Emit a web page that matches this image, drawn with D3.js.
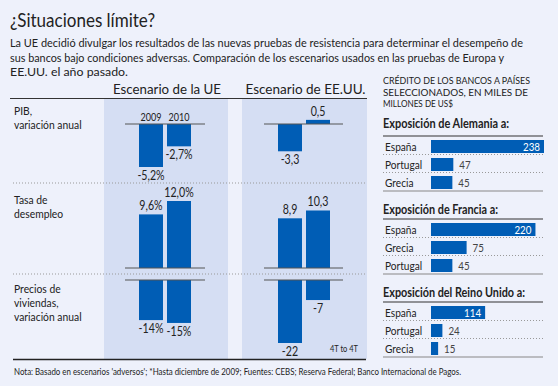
<!DOCTYPE html>
<html>
<head>
<meta charset="utf-8">
<script src="https://cdn.jsdelivr.net/npm/d3@7"></script>
<style>
  body { margin: 0; background: #eef1fb; }
  svg { display: block; }
  text { font-family: Lato, "Noto Sans", sans-serif; fill: #222; }
</style>
</head>
<body>
<div id="chart"></div>
<script>
// data
var years = ["2009", "2010"];
var rowNames = [["PIB,", "variación anual"], ["Tasa de", "desempleo"], ["Precios de", "viviendas,", "variación anual"]];
var euPib = [-5.2, -2.7];
var usPib = [-3.3, 0.5];
var euParo = [9.6, 12.0];
var usParo = [8.9, 10.3];
var euVivienda = [-14, -15];
var usVivienda = [-22, -7];
var euLabels = [["-5,2%", "-2,7%"], ["9,6%", "12,0%"], ["-14%", "-15%"]];
var usLabels = [["-3,3", "0,5"], ["8,9", "10,3"], ["-22", "-7"]];

var blockTitles = ["Exposición de Alemania a:", "Exposición de Francia a:", "Exposición del Reino Unido a:"];
var alemaniaPaises = ["España", "Portugal", "Grecia"];
var alemaniaValores = [238, 47, 45];
var franciaPaises = ["España", "Grecia", "Portugal"];
var franciaValores = [220, 75, 45];
var reinoPaises = ["España", "Portugal", "Grecia"];
var reinoValores = [114, 24, 15];

var W = 558, H = 386;
var blue = "#005db5";
var panel = "#d5def3";

// the original font is a condensed one, so squeeze text to the widths in the picture
function fit(sel, w){
  sel.attr("textLength", w).attr("lengthAdjust", "spacingAndGlyphs");
}
function squeeze(sel, k){
  sel.each(function(){
    var w = this.getComputedTextLength();
    d3.select(this).attr("textLength", w * k).attr("lengthAdjust", "spacingAndGlyphs");
  });
}

var svg = d3.select("#chart").append("svg")
    .attr("width", W)
    .attr("height", H);

svg.append("rect").attr("width", W).attr("height", H).attr("fill", "#eef1fb");

svg.append("text")
    .attr("x", 10).attr("y", 27)
    .attr("font-size", 19)
    .text("¿Situaciones límite?")
    .call(fit, 145);

var sub = ["La UE decidió divulgar los resultados de las nuevas pruebas de resistencia para determinar el desempeño de",
  "sus bancos bajo condiciones adversas. Comparación de los escenarios usados en las pruebas de Europa y",
  "EE.UU. el año pasado."];
var subW = [513, 494, 118];
svg.selectAll(".sub").data(sub).enter().append("text")
    .attr("class", "sub")
    .attr("x", 10)
    .attr("y", function(d, i){ return 47 + i * 14.5; })
    .attr("font-size", 11.5)
    .text(function(d){ return d; })
    .attr("textLength", function(d, i){ return subW[i]; })
    .attr("lengthAdjust", "spacingAndGlyphs");

// left: scenario panels
var panels = [{name: "Escenario de la UE", w: 108, x0: 104, x1: 228, bar0: 139, axis0: 125, axis1: 205},
              {name: "Escenario de EE.UU.", w: 120, x0: 242, x1: 367, bar0: 278, axis0: 264, axis1: 343}];

svg.selectAll(".panel").data(panels).enter().append("rect")
    .attr("x", function(d){ return d.x0; })
    .attr("y", 99)
    .attr("width", function(d){ return d.x1 - d.x0; })
    .attr("height", 260)
    .attr("fill", panel);

svg.selectAll(".ptitle").data(panels).enter().append("text")
    .attr("x", function(d){ return (d.x0 + d.x1) / 2 + 1; })
    .attr("y", 94)
    .attr("text-anchor", "middle")
    .attr("font-size", 14)
    .text(function(d){ return d.name; })
    .attr("textLength", function(d){ return d.w; })
    .attr("lengthAdjust", "spacingAndGlyphs");

svg.append("line").attr("x1", 10).attr("x2", 367).attr("y1", 98.5).attr("y2", 98.5)
    .attr("stroke", "#333").attr("stroke-width", 1);

// dotted separators between rows
[183, 274].forEach(function(y){
  svg.append("line").attr("x1", 13).attr("x2", 365).attr("y1", y).attr("y2", y)
      .attr("stroke", "#999").attr("stroke-dasharray", "1,2");
});

var x = d3.scaleBand().domain(years).range([0, 52]).paddingInner(0.143);

var rows = [
  {eu: euPib, us: usPib, y: d3.scaleLinear().domain([0, -5.2]).range([124, 167]), labelY: 115},
  {eu: euParo, us: usParo, y: d3.scaleLinear().domain([0, 12]).range([268, 201]), labelY: 204},
  {eu: euVivienda, us: usVivienda, y: d3.scaleLinear().domain([0, -22]).range([280, 343]), labelY: 293}
];

rows.forEach(function(row, r){
  svg.append("g").selectAll("text").data(rowNames[r]).enter().append("text")
      .attr("x", 14)
      .attr("y", function(d, i){ return row.labelY + i * 14; })
      .attr("font-size", 12)
      .text(function(d){ return d; })
      .call(squeeze, 0.86);

  [row.eu, row.us].forEach(function(vals, p){
    var pn = panels[p];
    var labs = p == 0 ? euLabels[r] : usLabels[r];
    var g = svg.append("g").attr("transform", "translate(" + pn.bar0 + ",0)");
    g.selectAll("rect").data(vals).enter().append("rect")
        .attr("x", function(d, i){ return x(years[i]); })
        .attr("y", function(d){ return Math.min(row.y(d), row.y(0)); })
        .attr("width", x.bandwidth())
        .attr("height", function(d){ return Math.abs(row.y(d) - row.y(0)); })
        .attr("fill", blue);
    g.selectAll("text").data(vals).enter().append("text")
        .attr("x", function(d, i){ return x(years[i]) + x.bandwidth() / 2; })
        .attr("y", function(d){ return d < 0 ? row.y(d) + 13 : row.y(d) - 4; })
        .attr("text-anchor", "middle")
        .attr("font-size", 12.5)
        .text(function(d, i){ return labs[i]; })
        .call(squeeze, 0.85);
    svg.append("line")
        .attr("x1", pn.axis0).attr("x2", pn.axis1)
        .attr("y1", row.y(0)).attr("y2", row.y(0))
        .attr("stroke", "#555").attr("stroke-width", 1.2);
  });
});

// year labels over the EU PIB bars
svg.append("g").attr("transform", "translate(" + panels[0].bar0 + ",0)")
  .selectAll("text").data(years).enter().append("text")
    .attr("x", function(d){ return x(d) + x.bandwidth() / 2; })
    .attr("y", 121)
    .attr("text-anchor", "middle")
    .attr("font-size", 12)
    .text(function(d){ return d; })
    .call(fit, 21);

svg.append("text").attr("x", 358).attr("y", 352).attr("text-anchor", "end")
    .attr("font-size", 9).attr("fill", "#444")
    .text("4T to 4T")
    .call(fit, 28);

svg.append("line").attr("x1", 13).attr("x2", 366).attr("y1", 359.5).attr("y2", 359.5)
    .attr("stroke", "#222").attr("stroke-width", 1.5);

svg.append("text").attr("x", 14).attr("y", 375)
    .attr("font-size", 9.5).attr("fill", "#333")
    .text("Nota: Basado en escenarios 'adversos'; *Hasta diciembre de 2009; Fuentes: CEBS; Reserva Federal; Banco Internacional de Pagos.")
    .call(fit, 447);

// right: exposure bars
var cred = ["CRÉDITO DE LOS BANCOS A PAÍSES", "SELECCIONADOS, EN MILES DE", "MILLONES DE US$"];
var credW = [147, 145, 70];
svg.selectAll(".cred").data(cred).enter().append("text")
    .attr("x", 383)
    .attr("y", function(d, i){ return 84 + i * 11.5; })
    .attr("font-size", 10)
    .text(function(d){ return d; })
    .attr("textLength", function(d, i){ return credW[i]; })
    .attr("lengthAdjust", "spacingAndGlyphs");

var xr = d3.scaleLinear().domain([0, 238]).range([431, 544]);

var blocks = [
  {title: blockTitles[0], tw: 126, ty: 128, paises: alemaniaPaises, valores: alemaniaValores, top: 136},
  {title: blockTitles[1], tw: 115, ty: 214, paises: franciaPaises, valores: franciaValores, top: 219},
  {title: blockTitles[2], tw: 142, ty: 297, paises: reinoPaises, valores: reinoValores, top: 302}
];

blocks.forEach(function(b){
  var yb = d3.scaleBand().domain(b.paises).range([b.top + 1.5, b.top + 55.5]).paddingInner(5 / 18).paddingOuter(2.5 / 18);
  svg.append("text").attr("x", 383).attr("y", b.ty)
      .attr("font-size", 12.5).attr("font-weight", "bold")
      .text(b.title)
      .call(fit, b.tw);
  svg.append("line").attr("x1", 383).attr("x2", 543).attr("y1", b.top).attr("y2", b.top)
      .attr("stroke", "#333").attr("stroke-width", 1.2);
  svg.append("line").attr("x1", 383).attr("x2", 543).attr("y1", b.top + 55).attr("y2", b.top + 55)
      .attr("stroke", "#888").attr("stroke-width", 1.2);
  [1, 2].forEach(function(k){
    var yy = b.top + k * 18 + 0.5;
    svg.append("line").attr("x1", 383).attr("x2", 543).attr("y1", yy).attr("y2", yy)
        .attr("stroke", "#999").attr("stroke-dasharray", "1,2");
  });
  var g = svg.append("g");
  g.selectAll("rect").data(b.valores).enter().append("rect")
      .attr("x", xr(0))
      .attr("y", function(d, i){ return yb(b.paises[i]); })
      .attr("width", function(d){ return xr(d) - xr(0); })
      .attr("height", yb.bandwidth())
      .attr("fill", blue);
  g.selectAll(".pais").data(b.paises).enter().append("text")
      .attr("x", 385)
      .attr("y", function(d){ return yb(d) + yb.bandwidth() / 2 + 4; })
      .attr("font-size", 11.5)
      .text(function(d){ return d; })
      .call(squeeze, 0.88);
  g.selectAll(".val").data(b.valores).enter().append("text")
      .attr("x", function(d){ return d > 100 ? xr(d) - 4 : xr(d) + 6; })
      .attr("y", function(d, i){ return yb(b.paises[i]) + yb.bandwidth() / 2 + 4; })
      .attr("text-anchor", function(d){ return d > 100 ? "end" : "start"; })
      .attr("font-size", 11.5)
      .style("fill", function(d){ return d > 100 ? "#fff" : "#444"; })
      .text(function(d){ return d; })
      .call(squeeze, 0.85);
});
</script>
</body>
</html>
